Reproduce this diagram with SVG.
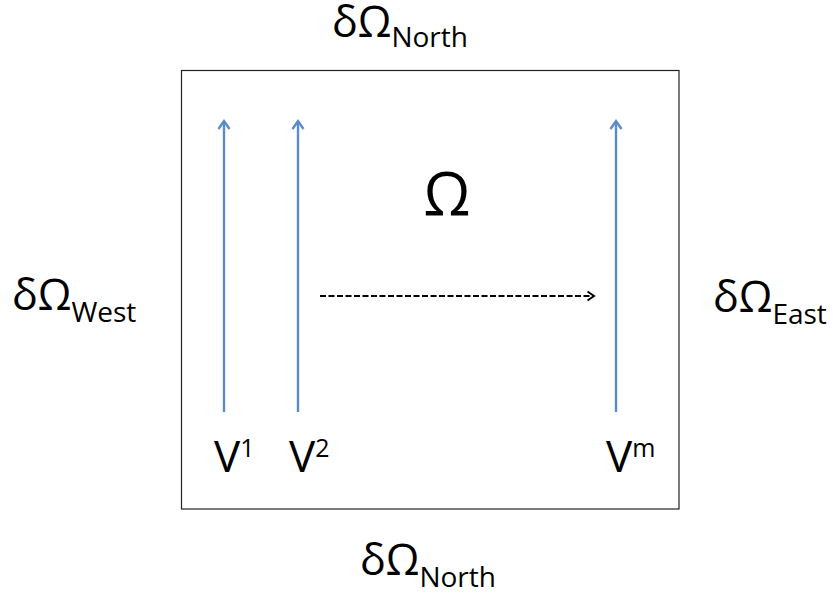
<svg xmlns="http://www.w3.org/2000/svg" width="833" height="597" viewBox="0 0 833 597">
<style>
text{font-family:"Open Sans","Liberation Sans",sans-serif;fill:#000}
.big{font-size:43px}
.sub{font-size:28px}
.vl{font-size:44px}
.sup{font-size:25px}
.v{stroke:#5a8ccc;stroke-width:2.4;fill:none}
</style>
<defs>
<marker id="ah" markerWidth="14" markerHeight="14" refX="9" refY="7" orient="auto" markerUnits="userSpaceOnUse">
<path d="M1,1.5 L9,7 L1,12.5" fill="none" stroke="#5a8ccc" stroke-width="2.4"/>
</marker>
<marker id="ad" markerWidth="12" markerHeight="12" refX="8" refY="6" orient="auto" markerUnits="userSpaceOnUse">
<path d="M1.5,1.5 L8,6 L1.5,10.5" fill="none" stroke="#000" stroke-width="2"/>
</marker>
</defs>
<g id="domain">
<rect x="181.5" y="70.5" width="497.5" height="438.5" fill="#fff" stroke="#222" stroke-width="1.2"/>
<text x="447" y="215" font-size="60" text-anchor="middle">Ω</text>
</g>
<g id="connectors">
<line class="v" x1="224" y1="412" x2="224" y2="121" marker-end="url(#ah)"/>
<line class="v" x1="298" y1="412" x2="298" y2="121" marker-end="url(#ah)"/>
<line class="v" x1="616" y1="412" x2="616" y2="121" marker-end="url(#ah)"/>
<line x1="320" y1="296" x2="594" y2="296" stroke="#000" stroke-width="2" stroke-dasharray="6,2.5" marker-end="url(#ad)"/>
</g>
<g id="north"><text x="332" y="37" class="big">δΩ<tspan class="sub" dy="10">North</tspan></text></g>
<g id="west"><text x="12" y="310" class="big">δΩ<tspan class="sub" dy="12">West</tspan></text></g>
<g id="east"><text x="713" y="312" class="big">δΩ<tspan class="sub" dy="12">East</tspan></text></g>
<g id="south"><text x="360" y="575" class="big">δΩ<tspan class="sub" dy="12">North</tspan></text></g>
<g id="v1"><text x="214" y="472" class="vl">V<tspan class="sup" dy="-15">1</tspan></text></g>
<g id="v2"><text x="289" y="472" class="vl">V<tspan class="sup" dy="-15">2</tspan></text></g>
<g id="vm"><text x="606" y="472" class="vl">V<tspan class="sup" dy="-15">m</tspan></text></g>
</svg>
